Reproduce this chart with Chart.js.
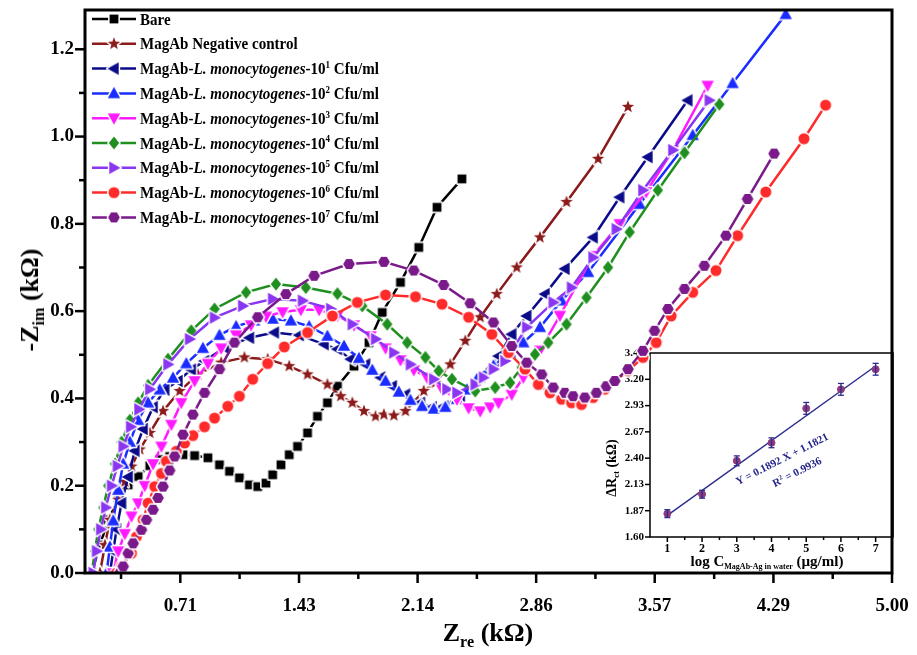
<!DOCTYPE html>
<html>
<head>
<meta charset="utf-8">
<script src="https://cdn.jsdelivr.net/npm/chart.js@4.4.1/dist/chart.umd.min.js"></script>
<style>
  html, body { margin: 0; padding: 0; background: #fff; }
  #wrap { position: relative; width: 917px; height: 655px; overflow: hidden;
    font-family: 'Liberation Serif', 'Times New Roman', serif; font-weight: bold; color: #000; }
  canvas { position: absolute; }
  #main { left: 0; top: 0; }
  #inset { left: 595px; top: 340px; }
  .lbl { position: absolute; white-space: nowrap; line-height: 1; }
  .leg { font-size: 17px; left: 140px; transform: scaleX(0.885); transform-origin: 0 50%; }
  sup { font-size: 0.6em; position: relative; top: -0.6em; vertical-align: baseline; }
  sub { font-size: 0.62em; position: relative; top: 0.35em; vertical-align: baseline; }
  .ctr { transform: translate(-50%, -50%); }
  .rot { transform: translate(-50%, -50%) rotate(-90deg); }
  .eq { color: #24248c; font-size: 11px; transform: translate(-50%, -50%) rotate(-27deg); }
</style>
</head>
<body>
<div id="wrap">
  <canvas id="inset" width="305" height="240"></canvas>
  <canvas id="main" width="917" height="655"></canvas>

  <div class="lbl ctr" style="left:488px;top:633px;font-size:26px;">Z<sub>re</sub> (kΩ)</div>
  <div class="lbl rot" style="left:30px;top:300px;font-size:26px;">-Z<sub>im</sub> (kΩ)</div>

  <div class="lbl rot" style="left:612px;top:468px;font-size:14px;">ΔR<sub>ct</sub> (kΩ)</div>
  <div class="lbl ctr" style="left:767px;top:561px;font-size:15px;">log C<sub style="font-size:8px;">MagAb-Ag in water</sub> (µg/ml)</div>
  <div class="lbl eq" style="left:782px;top:459px;">Y = 0.1892 X + 1.1821</div>
  <div class="lbl eq" style="left:797px;top:472px;">R<sup>2</sup> = 0.9936</div>

  <div id="legend"></div>
</div>

<script>
// Axis setup
const X_MIN = 0.14, X_MAX = 5.0, Y_MIN = 0, Y_MAX = 1.29;
const xTicks = [0.714, 1.429, 2.143, 2.857, 3.571, 4.286, 5.0];
const xTickLabels = ['0.71', '1.43', '2.14', '2.86', '3.57', '4.29', '5.00'];
const xMinor = [0.357, 1.071, 1.786, 2.5, 3.214, 3.929, 4.643];
const yTicks = [0, 0.2, 0.4, 0.6, 0.8, 1.0, 1.2];
const yTickLabels = ['0.0', '0.2', '0.4', '0.6', '0.8', '1.0', '1.2'];
const yMinor = [0.1, 0.3, 0.5, 0.7, 0.9, 1.1];

// Nyquist data (Zre, -Zim in kOhm)
const bareRe = [0.18,0.23,0.28,0.34,0.40,0.46,0.53,0.59,0.65,0.73,0.80,0.88,0.95,1.01,1.07,1.13,1.18,1.23,1.27,1.32,1.37,1.42,1.48,1.54,1.60,1.66,1.76,1.85,1.93,2.04,2.15,2.26,2.41];
const bareIm = [0,0.064,0.122,0.168,0.202,0.221,0.246,0.260,0.267,0.271,0.269,0.264,0.248,0.233,0.218,0.202,0.198,0.206,0.225,0.248,0.271,0.290,0.321,0.359,0.390,0.428,0.474,0.528,0.597,0.666,0.746,0.838,0.903];

const negRe = [0.23,0.26,0.29,0.34,0.38,0.42,0.47,0.53,0.61,0.71,0.82,0.96,1.10,1.24,1.37,1.48,1.60,1.68,1.75,1.82,1.89,1.94,2.00,2.07,2.18,2.25,2.34,2.43,2.52,2.62,2.74,2.88,3.04,3.23,3.41];
const negIm = [0,0.064,0.122,0.168,0.209,0.244,0.283,0.321,0.371,0.417,0.455,0.482,0.494,0.490,0.474,0.455,0.432,0.405,0.390,0.371,0.359,0.363,0.361,0.371,0.417,0.436,0.478,0.532,0.586,0.639,0.700,0.769,0.850,0.949,1.068];

const c1Re = [0.29,0.31,0.33,0.36,0.40,0.44,0.49,0.55,0.62,0.70,0.78,0.86,0.98,1.13,1.28,1.43,1.58,1.66,1.74,1.83,1.92,1.99,2.07,2.16,2.23,2.30,2.40,2.52,2.63,2.71,2.80,2.91,3.03,3.20,3.36,3.53,3.77];
const c1Im = [0,0.05,0.10,0.16,0.22,0.28,0.33,0.38,0.42,0.44,0.466,0.486,0.516,0.539,0.551,0.545,0.524,0.513,0.490,0.478,0.448,0.428,0.409,0.390,0.380,0.382,0.405,0.450,0.497,0.547,0.589,0.639,0.697,0.769,0.861,0.953,1.083];

const c2Re = [0.27,0.29,0.31,0.34,0.37,0.41,0.46,0.52,0.59,0.67,0.75,0.85,0.95,1.05,1.16,1.27,1.38,1.49,1.60,1.70,1.79,1.87,1.95,2.03,2.10,2.17,2.24,2.31,2.38,2.44,2.50,2.60,2.70,2.78,2.88,3.01,3.17,3.48,3.80,4.04,4.36];
const c2Im = [0,0.06,0.12,0.19,0.25,0.30,0.35,0.39,0.42,0.447,0.48,0.515,0.545,0.565,0.578,0.582,0.578,0.565,0.543,0.520,0.492,0.465,0.440,0.415,0.396,0.382,0.376,0.380,0.398,0.420,0.444,0.475,0.505,0.528,0.563,0.624,0.689,0.845,1.003,1.122,1.280];

const c3Re = [0.31,0.34,0.38,0.42,0.46,0.50,0.55,0.60,0.66,0.72,0.80,0.88,0.96,1.05,1.14,1.23,1.33,1.44,1.55,1.66,1.76,1.86,1.95,2.04,2.12,2.20,2.29,2.38,2.45,2.52,2.58,2.63,2.71,2.78,2.88,3.00,3.20,3.36,3.52,3.68,3.89];
const c3Im = [0,0.05,0.09,0.13,0.16,0.20,0.25,0.29,0.34,0.39,0.44,0.48,0.515,0.545,0.568,0.588,0.598,0.603,0.603,0.590,0.568,0.543,0.515,0.488,0.465,0.448,0.421,0.398,0.378,0.371,0.380,0.390,0.409,0.448,0.510,0.590,0.727,0.800,0.873,0.969,1.117];

const c4Re = [0.18,0.20,0.22,0.25,0.28,0.32,0.36,0.41,0.46,0.52,0.64,0.78,0.92,1.11,1.29,1.47,1.66,1.81,1.96,2.08,2.19,2.27,2.35,2.49,2.61,2.70,2.77,2.85,2.93,3.04,3.16,3.29,3.42,3.59,3.75,3.96];
const c4Im = [0,0.05,0.10,0.15,0.20,0.25,0.30,0.35,0.39,0.43,0.49,0.555,0.605,0.643,0.662,0.654,0.640,0.612,0.570,0.528,0.494,0.463,0.444,0.417,0.425,0.436,0.471,0.501,0.528,0.570,0.631,0.700,0.781,0.877,0.963,1.074];

const c5Re = [0.19,0.21,0.235,0.265,0.30,0.335,0.37,0.415,0.465,0.53,0.64,0.77,0.92,1.09,1.27,1.45,1.62,1.75,1.89,2.00,2.10,2.24,2.32,2.38,2.49,2.54,2.60,2.67,2.80,2.96,3.07,3.20,3.34,3.50,3.68,3.90];
const c5Im = [0,0.05,0.10,0.15,0.20,0.245,0.29,0.335,0.375,0.421,0.478,0.536,0.585,0.612,0.628,0.624,0.605,0.570,0.536,0.505,0.478,0.444,0.421,0.413,0.432,0.448,0.467,0.486,0.563,0.620,0.654,0.723,0.788,0.877,0.969,1.083];

const c6Re = [0.33,0.36,0.42,0.45,0.49,0.52,0.56,0.60,0.63,0.69,0.74,0.79,0.86,0.92,1.00,1.07,1.15,1.24,1.34,1.48,1.63,1.78,1.95,2.13,2.29,2.45,2.59,2.69,2.79,2.87,2.94,3.01,3.07,3.13,3.20,3.27,3.33,3.41,3.50,3.58,3.67,3.80,3.94,4.07,4.24,4.47,4.60];
const c6Im = [0,0.015,0.045,0.083,0.122,0.160,0.198,0.228,0.256,0.279,0.298,0.315,0.335,0.355,0.382,0.405,0.444,0.480,0.518,0.551,0.589,0.620,0.637,0.633,0.616,0.586,0.547,0.505,0.467,0.432,0.413,0.398,0.390,0.386,0.402,0.421,0.440,0.463,0.494,0.528,0.589,0.643,0.693,0.773,0.873,0.995,1.072];

const c7Re = [0.35,0.37,0.40,0.43,0.48,0.51,0.55,0.58,0.61,0.65,0.68,0.73,0.79,0.86,0.95,1.04,1.18,1.35,1.52,1.73,1.94,2.12,2.30,2.46,2.60,2.71,2.80,2.89,2.96,3.03,3.08,3.15,3.22,3.28,3.33,3.41,3.50,3.57,3.65,3.75,3.87,4.00,4.13,4.29];
const c7Im = [0,0.015,0.045,0.068,0.099,0.122,0.145,0.172,0.198,0.235,0.267,0.317,0.363,0.413,0.467,0.528,0.586,0.639,0.681,0.708,0.713,0.693,0.660,0.618,0.574,0.520,0.482,0.455,0.425,0.413,0.405,0.402,0.413,0.428,0.440,0.467,0.509,0.555,0.605,0.651,0.704,0.773,0.857,0.961];

// Inset calibration data
const logC = [1, 2, 3, 4, 5, 6, 7];
const dRct = [1.837, 2.034, 2.373, 2.556, 2.905, 3.098, 3.302];
const dRctErr = [0.04, 0.04, 0.05, 0.05, 0.06, 0.06, 0.06];
const fitX = [1, 7];
const fitY = [1.82, 3.335];
const insetYTicks = [1.6, 1.867, 2.133, 2.4, 2.667, 2.933, 3.2, 3.467];
const insetYLabels = ['1.60', '1.87', '2.13', '2.40', '2.67', '2.93', '3.20', '3.47'];
const insetXMinor = [1.5, 2.5, 3.5, 4.5, 5.5, 6.5];

const legendHtml = [
  'Bare',
  'MagAb Negative control',
  'MagAb-<i>L. monocytogenes</i>-10<sup>1</sup> Cfu/ml',
  'MagAb-<i>L. monocytogenes</i>-10<sup>2</sup> Cfu/ml',
  'MagAb-<i>L. monocytogenes</i>-10<sup>3</sup> Cfu/ml',
  'MagAb-<i>L. monocytogenes</i>-10<sup>4</sup> Cfu/ml',
  'MagAb-<i>L. monocytogenes</i>-10<sup>5</sup> Cfu/ml',
  'MagAb-<i>L. monocytogenes</i>-10<sup>6</sup> Cfu/ml',
  'MagAb-<i>L. monocytogenes</i>-10<sup>7</sup> Cfu/ml'
];

function makeMarker(shape, color, size) {
  const s = Math.ceil(size + 5);
  const c = document.createElement('canvas');
  c.width = c.height = s;
  const g = c.getContext('2d');
  g.translate(s / 2, s / 2);
  const r = size / 2;
  g.beginPath();
  if (shape === 'square') {
    g.rect(-r * 0.8, -r * 0.8, r * 1.6, r * 1.6);
  } else if (shape === 'circle') {
    g.arc(0, 0, r * 0.85, 0, Math.PI * 2);
  } else if (shape === 'hexagon') {
    for (let k = 0; k < 6; k++) {
      const a = k * Math.PI / 3;
      g.lineTo(Math.cos(a) * r * 0.9, Math.sin(a) * r * 0.9);
    }
  } else if (shape === 'star') {
    for (let k = 0; k < 10; k++) {
      const a = -Math.PI / 2 + k * Math.PI / 5;
      const rr = k % 2 ? r * 0.42 : r;
      g.lineTo(Math.cos(a) * rr, Math.sin(a) * rr);
    }
  } else if (shape === 'up') {
    g.moveTo(0, -r); g.lineTo(r * 0.95, r * 0.72); g.lineTo(-r * 0.95, r * 0.72);
  } else if (shape === 'down') {
    g.moveTo(0, r); g.lineTo(r * 0.95, -r * 0.72); g.lineTo(-r * 0.95, -r * 0.72);
  } else if (shape === 'left') {
    g.moveTo(-r, 0); g.lineTo(r * 0.72, -r * 0.95); g.lineTo(r * 0.72, r * 0.95);
  } else if (shape === 'right') {
    g.moveTo(r, 0); g.lineTo(-r * 0.72, -r * 0.95); g.lineTo(-r * 0.72, r * 0.95);
  } else if (shape === 'diamond') {
    g.moveTo(0, -r); g.lineTo(r * 0.8, 0); g.lineTo(0, r); g.lineTo(-r * 0.8, 0);
  }
  g.closePath();
  g.lineJoin = 'round';
  g.strokeStyle = '#fff';
  g.lineWidth = 3;
  g.stroke();
  g.fillStyle = color;
  g.fill();
  return c;
}

const seriesDefs = [
  { re: bareRe, im: bareIm, color: '#000000', shape: 'square', size: 11 },
  { re: negRe, im: negIm, color: '#8b1a1a', shape: 'star', size: 13 },
  { re: c1Re, im: c1Im, color: '#0b0b8a', shape: 'left', size: 13 },
  { re: c2Re, im: c2Im, color: '#1a2cff', shape: 'up', size: 13 },
  { re: c3Re, im: c3Im, color: '#ff1aff', shape: 'down', size: 13 },
  { re: c4Re, im: c4Im, color: '#1f8f1f', shape: 'diamond', size: 13 },
  { re: c5Re, im: c5Im, color: '#8a35f0', shape: 'right', size: 13 },
  { re: c6Re, im: c6Im, color: '#ff2a2a', shape: 'circle', size: 13 },
  { re: c7Re, im: c7Im, color: '#7a1a8a', shape: 'hexagon', size: 13 }
];
seriesDefs.forEach(s => { s.marker = makeMarker(s.shape, s.color, s.size); });

const legendY = [19, 43.8, 68.6, 93.4, 118.2, 143, 167.8, 192.6, 217.4];

// legend text
const legendBox = document.getElementById('legend');
legendHtml.forEach((t, i) => {
  const d = document.createElement('div');
  d.className = 'lbl leg';
  d.style.top = (legendY[i] - 8.5) + 'px';
  d.innerHTML = t;
  legendBox.appendChild(d);
});

const tickFont = { family: 'Liberation Serif', size: 19, weight: 'bold' };

function strokeLine(ctx, x1, y1, x2, y2) {
  ctx.beginPath(); ctx.moveTo(x1, y1); ctx.lineTo(x2, y2); ctx.stroke();
}

// keep chart area exactly where the padding puts it
function noScalePad(s) {
  s.paddingTop = 0; s.paddingBottom = 0; s.paddingLeft = 0; s.paddingRight = 0;
}

const mainFrame = {
  id: 'mainFrame',
  afterDraw(chart) {
    const { ctx, chartArea: a, scales: { x, y } } = chart;
    ctx.save();
    ctx.strokeStyle = '#000';
    ctx.lineWidth = 2.5;
    xTicks.forEach(v => { const p = x.getPixelForValue(v); strokeLine(ctx, p, a.bottom, p, a.bottom + 10); });
    xMinor.forEach(v => { const p = x.getPixelForValue(v); strokeLine(ctx, p, a.bottom, p, a.bottom + 6); });
    yTicks.forEach(v => { const p = y.getPixelForValue(v); strokeLine(ctx, a.left, p, a.left - 10, p); });
    yMinor.forEach(v => { const p = y.getPixelForValue(v); strokeLine(ctx, a.left, p, a.left - 6, p); });
    ctx.lineWidth = 3;
    ctx.strokeRect(a.left, a.top, a.right - a.left, a.bottom - a.top);

    // legend symbols
    seriesDefs.forEach((s, i) => {
      ctx.strokeStyle = s.color;
      ctx.lineWidth = 2.5;
      strokeLine(ctx, 92, legendY[i], 136, legendY[i]);
      ctx.drawImage(s.marker, 114 - s.marker.width / 2, legendY[i] - s.marker.height / 2);
    });
    ctx.restore();
  }
};

const n = seriesDefs.length;
const datasets = seriesDefs.map((s, i) => ({
  data: s.re.map((v, k) => ({ x: v, y: s.im[k] })),
  showLine: true,
  borderColor: s.color,
  borderWidth: 2.5,
  pointStyle: s.marker,
  pointRadius: 6,
  order: n - 1 - i
}));

const noGrid = { display: false, drawTicks: false };

new Chart(document.getElementById('main'), {
  type: 'scatter',
  data: { datasets },
  options: {
    responsive: false,
    animation: false,
    layout: { padding: { left: 0, top: 10, right: 25, bottom: 0 } },
    plugins: { legend: { display: false }, tooltip: { enabled: false } },
    scales: {
      x: {
        type: 'linear', min: X_MIN, max: X_MAX,
        afterBuildTicks: s => { s.ticks = xTicks.map(v => ({ value: v })); },
        afterFit: s => { s.height = 82; noScalePad(s); },
        grid: noGrid, border: { display: false },
        ticks: { color: '#000', font: tickFont, padding: 22, autoSkip: false, maxRotation: 0,
          callback: (v, i) => xTickLabels[i] }
      },
      y: {
        type: 'linear', min: Y_MIN, max: Y_MAX,
        afterBuildTicks: s => { s.ticks = yTicks.map(v => ({ value: v })); },
        afterFit: s => { s.width = 85; noScalePad(s); },
        grid: noGrid, border: { display: false },
        ticks: { color: '#000', font: tickFont, padding: 11, autoSkip: false,
          callback: (v, i) => yTickLabels[i] }
      }
    }
  },
  plugins: [mainFrame]
});

// Inset
const insetFrame = {
  id: 'insetFrame',
  afterDatasetsDraw(chart) {
    const { ctx, chartArea: a, scales: { x, y } } = chart;
    ctx.save();
    // error bars
    ctx.strokeStyle = '#2b2b8f';
    ctx.lineWidth = 1.3;
    logC.forEach((v, i) => {
      const px = x.getPixelForValue(v);
      const lo = y.getPixelForValue(dRct[i] - dRctErr[i]);
      const hi = y.getPixelForValue(dRct[i] + dRctErr[i]);
      strokeLine(ctx, px, lo, px, hi);
      strokeLine(ctx, px - 3, lo, px + 3, lo);
      strokeLine(ctx, px - 3, hi, px + 3, hi);
    });
    ctx.strokeStyle = '#000';
    ctx.lineWidth = 1.5;
    logC.forEach(v => { const p = x.getPixelForValue(v); strokeLine(ctx, p, a.bottom, p, a.bottom + 5); });
    insetXMinor.forEach(v => { const p = x.getPixelForValue(v); strokeLine(ctx, p, a.bottom, p, a.bottom + 3); });
    insetYTicks.forEach(v => { const p = y.getPixelForValue(v); strokeLine(ctx, a.left, p, a.left - 5, p); });
    ctx.strokeRect(a.left, a.top, a.right - a.left, a.bottom - a.top);
    ctx.restore();
  }
};

new Chart(document.getElementById('inset'), {
  type: 'scatter',
  data: {
    datasets: [
      {
        data: fitX.map((v, i) => ({ x: v, y: fitY[i] })),
        showLine: true, borderColor: '#2e2e8e', borderWidth: 1.5, pointRadius: 0, order: 1
      },
      {
        data: logC.map((v, i) => ({ x: v, y: dRct[i] })),
        showLine: false, pointRadius: 3.5, pointBackgroundColor: '#8e3b7e',
        pointBorderColor: '#8e3b7e', order: 0
      }
    ]
  },
  options: {
    responsive: false,
    animation: false,
    layout: { padding: { left: 0, top: 13, right: 7, bottom: 0 } },
    plugins: { legend: { display: false }, tooltip: { enabled: false } },
    scales: {
      x: {
        type: 'linear', min: 0.5, max: 7.5,
        afterBuildTicks: s => { s.ticks = logC.map(v => ({ value: v })); },
        afterFit: s => { s.height = 43; noScalePad(s); },
        grid: noGrid, border: { display: false },
        ticks: { color: '#000', font: { family: 'Liberation Serif', size: 12, weight: 'bold' },
          padding: 5, autoSkip: false, maxRotation: 0 }
      },
      y: {
        type: 'linear', min: 1.6, max: 3.467,
        afterBuildTicks: s => { s.ticks = insetYTicks.map(v => ({ value: v })); },
        afterFit: s => { s.width = 55; noScalePad(s); },
        grid: noGrid, border: { display: false },
        ticks: { color: '#000', font: { family: 'Liberation Serif', size: 11, weight: 'bold' },
          padding: 6, autoSkip: false, callback: (v, i) => insetYLabels[i] }
      }
    }
  },
  plugins: [insetFrame]
});
</script>
</body>
</html>
